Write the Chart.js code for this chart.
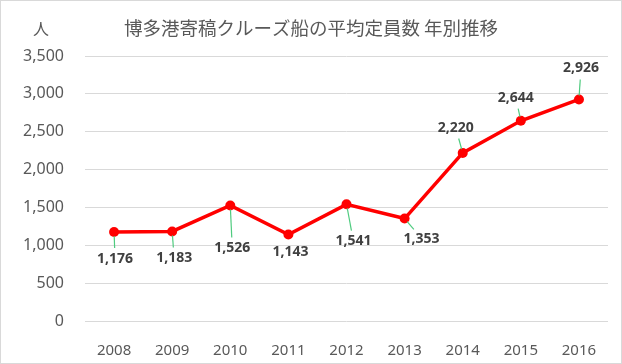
<!DOCTYPE html>
<html>
<head>
<meta charset="utf-8">
<script src="https://cdn.jsdelivr.net/npm/chart.js@4/dist/chart.umd.min.js"></script>
<style>
  html, body { margin: 0; padding: 0; background: #fff; }
  #wrap { position: relative; width: 622px; height: 364px; box-sizing: border-box; border: 1px solid #d9d9d9; }
  canvas { position: absolute; left: 0; top: 0; }
</style>
</head>
<body>
<div id="wrap"><canvas id="chart" width="622" height="364"></canvas></div>
<script>
// 博多港寄港クルーズ船 平均定員数
var years = ["2008", "2009", "2010", "2011", "2012", "2013", "2014", "2015", "2016"];
var capacity = [1176, 1183, 1526, 1143, 1541, 1353, 2220, 2644, 2926];
var yTicks = [0, 500, 1000, 1500, 2000, 2500, 3000, 3500];
var chartTitle = "博多港寄稿クルーズ船の平均定員数 年別推移";
var unitLabel = "人";

// label offsets from each point (dx, dy), leader line drawn in green
var labelOffsets = [[1, 27], [2, 27], [2, 43], [2, 18], [7, 37], [17, 20], [-7, -25], [-5, -23], [2, -31]];

var labelPlugin = {
  id: "labels",
  afterDatasetsDraw: function (chart) {
    var ctx = chart.ctx;
    var meta = chart.getDatasetMeta(0);
    ctx.save();
    ctx.font = "bold 14px 'Noto Sans', 'DejaVu Sans', sans-serif";
    ctx.textAlign = "center";
    ctx.textBaseline = "middle";
    for (var i = 0; i < meta.data.length; i++) {
      var p = meta.data[i];
      var off = labelOffsets[i];
      var lx = p.x + off[0], ly = p.y + off[1];
      var dist = Math.sqrt(off[0] * off[0] + off[1] * off[1]);
      if (dist > 22) {
        var ux = off[0] / dist, uy = off[1] / dist;
        var end = dist - 11;
        if (i == 5) end = dist - 12;
        ctx.strokeStyle = "#4fcb7f";
        ctx.lineWidth = 1.2;
        ctx.beginPath();
        ctx.moveTo(p.x + ux * 4, p.y + uy * 4);
        ctx.lineTo(p.x + ux * end, p.y + uy * end);
        ctx.stroke();
      }
      ctx.fillStyle = "#404040";
      ctx.fillText(capacity[i].toLocaleString("en-US"), lx, ly);
    }
    ctx.font = "18.5px 'Noto Sans CJK JP', sans-serif";
    ctx.fillStyle = "#595959";
    ctx.fillText(chartTitle, 310, 27);
    ctx.font = "16px 'Noto Sans CJK JP', sans-serif";
    ctx.fillText(unitLabel, 40, 28);
    ctx.restore();
  }
};

new Chart(document.getElementById("chart"), {
  type: "line",
  data: {
    labels: years,
    datasets: [{
      data: capacity,
      borderColor: "#ff0000",
      backgroundColor: "#ff0000",
      borderWidth: 3.5,
      pointRadius: 5,
      pointBorderWidth: 0,
      tension: 0
    }]
  },
  options: {
    responsive: false,
    animation: false,
    layout: { padding: { top: 55, right: 15, left: 0, bottom: 0 } },
    plugins: { legend: { display: false }, tooltip: { enabled: false } },
    scales: {
      x: {
        offset: true,
        grid: { display: false },
        border: { display: false },
        ticks: { color: "#595959", font: { family: "'Noto Sans', sans-serif", size: 15 }, padding: 13 },
        afterFit: function (s) { s.height = 44; }
      },
      y: {
        min: 0,
        max: 3500,
        afterBuildTicks: function (s) { s.ticks = yTicks.map(function (v) { return { value: v }; }); },
        grid: { color: "#d9d9d9", drawTicks: false },
        border: { display: false },
        ticks: {
          color: "#595959",
          font: { family: "'Noto Sans', sans-serif", size: 16 },
          padding: 21,
          callback: function (v) { return v.toLocaleString("en-US"); }
        },
        afterFit: function (s) { s.width = 84; }
      }
    }
  },
  plugins: [labelPlugin]
});
</script>
</body>
</html>
